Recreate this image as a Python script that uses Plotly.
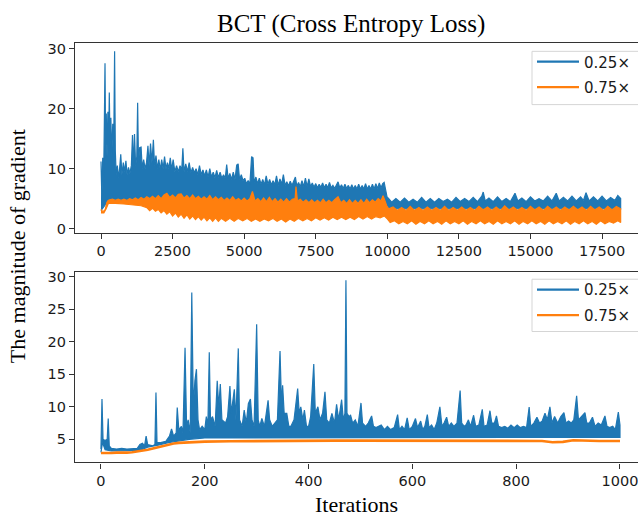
import plotly.graph_objects as go

# ---------------- data ----------------
series_names = ["0.25×", "0.75×"]
colors = ["#1f77b4", "#ff7f0e"]

# Top panel (all ~18k iterations): dense bands described by upper / lower envelopes
top_blue_upper_x = [0,30,60,90,120,140,160,185,210,240,265,290,315,345,375,410,445,475,500,530,570,610,650,690,730,780,830,870,910,960,1010,1060,1100,1130,1170,1210,1250,1280,1310,1350,1400,1440,1490,1540,1590,1640,1680,1730,1780,1830,1870,1920,1970,2020,2070,2120,2170,2220,2270,2320,2370,2420,2470,2520,2580,2640,2700,2760,2820,2860,2900,2960,3020,3080,3140,3200,3260,3320,3380,3440,3500,3560,3620,3680,3740,3800,3860,3920,3980,4040,4100,4160,4220,4280,4340,4390,4440,4500,4560,4620,4680,4740,4790,4840,4900,4960,5020,5080,5140,5200,5260,5310,5350,5410,5470,5530,5590,5650,5710,5770,5830,5890,5950,6010,6070,6130,6190,6250,6310,6370,6430,6490,6550,6610,6670,6730,6790,6840,6900,6960,7020,7080,7140,7200,7260,7320,7380,7440,7500,7560,7620,7680,7740,7800,7860,7920,7980,8040,8100,8160,8220,8280,8340,8400,8460,8520,8580,8640,8700,8760,8820,8880,8940,9000,9060,9120,9180,9240,9300,9360,9420,9480,9540,9600,9660,9720,9780,9840,9890,9940,9990,10050,10150,10300,10450,10600,10750,10900,11050,11200,11350,11500,11650,11800,11950,12100,12250,12400,12550,12700,12850,13000,13150,13300,13350,13420,13550,13700,13850,14000,14150,14300,14460,14560,14700,14850,15000,15150,15300,15450,15600,15750,15900,16000,16150,16300,16450,16600,16750,16850,16940,17050,17200,17350,17500,17650,17800,17950,18050,18150]
top_blue_upper_y = [11.2,5,11.8,7,19,27.6,14,19.2,12,19.5,13,22.7,14,18.5,12,17.5,14,29.6,13,9,10.5,8.5,10,12.4,9,11,9.5,11.3,9,10.2,9.2,10.5,15.6,10,15.8,10.5,12,21.0,11,13.5,13.6,10,11.5,10,11,13.8,10.5,14.2,11,14.8,10.5,12.2,10,11.5,9.8,11.5,10,12.0,10,11,10,11.8,9.8,11.5,9.5,10.5,9.5,10.5,9.8,13.4,9.5,10.8,9.5,11,9.3,10.2,9.3,10.0,9,10.5,9,9.8,8.8,9.8,8.6,10.0,8.6,9.4,8.5,9.7,8.5,9.4,8.4,9.0,8.4,10.7,8.4,9.2,8.2,9.4,8.2,10.6,10.8,8.2,9.0,8.0,8.4,7.5,8.0,7.4,12.0,11.8,7.6,8.6,7.5,8.4,7.4,8.2,7.3,8.8,7.4,8.2,7.3,8.0,7.3,8.8,7.2,8.3,7.4,9.0,7.2,7.8,7.1,7.9,7.2,8.0,8.6,7.1,7.7,7.0,8.0,7.0,8.4,7.0,8.3,7.0,7.6,6.9,7.5,6.8,7.4,6.9,7.6,6.8,7.4,6.8,7.7,6.8,7.2,6.7,7.4,7.8,6.8,7.3,6.7,7.4,6.7,7.2,6.6,7.3,6.6,7.2,6.6,7.4,6.6,7.2,6.6,7.5,6.6,7.2,6.6,7.4,6.6,7.5,6.7,7.6,6.8,7.5,7.7,6.2,5.3,5.0,4.4,5.0,4.4,5.1,4.4,4.9,4.4,5.2,4.4,5.0,4.4,5.0,4.5,4.9,4.4,5.2,4.5,5.0,4.5,5.2,4.5,5.4,6.1,4.6,5.1,4.5,5.3,4.5,5.0,4.5,5.9,4.6,5.1,4.5,5.3,4.6,5.0,4.6,5.4,4.6,5.9,4.6,5.2,4.6,5.4,4.6,5.3,4.7,6.0,4.6,5.3,4.6,5.4,4.6,5.2,4.7,5.5,5.0]
top_blue_lower_x = [0,60,150,300,1500,2500,4000,6000,9900,10050,18150]
top_blue_lower_y = [3.0,3.3,4.0,4.5,4.8,5.0,4.8,4.5,4.3,3.3,3.3]

top_orange_upper_x = [0,40,100,150,200,250,300,400,500,600,700,800,900,1000,1100,1200,1300,1400,1500,1600,1700,1800,1900,2000,2100,2200,2300,2400,2500,2600,2700,2800,2900,3000,3100,3200,3300,3400,3500,3600,3700,3800,3900,4000,4100,4200,4300,4400,4500,4600,4700,4800,4900,5000,5100,5200,5290,5380,5480,5580,5680,5780,5880,5980,6080,6180,6280,6380,6480,6580,6680,6780,6810,6860,6960,7060,7160,7260,7360,7460,7560,7660,7760,7860,7960,8060,8160,8280,8380,8480,8580,8680,8780,8880,8980,9080,9180,9280,9380,9480,9580,9680,9780,9850,9920,9980,10050,10200,10350,10500,10650,10800,10950,11100,11250,11400,11550,11700,11850,12000,12150,12300,12450,12600,12750,12900,13050,13200,13350,13500,13650,13800,13950,14100,14250,14400,14550,14700,14850,15000,15150,15300,15450,15600,15750,15900,16050,16200,16350,16500,16650,16800,16950,17100,17250,17400,17550,17700,17850,18000,18150]
top_orange_upper_y = [3.2,2.9,2.9,3.2,4.3,4.7,4.8,4.9,4.7,4.9,4.7,4.9,4.7,5.0,4.8,5.1,4.8,5.2,4.9,5.3,5.0,5.4,5.0,5.5,5.0,5.6,5.9,5.2,5.6,5.1,5.7,5.8,5.1,5.5,5.0,5.6,5.0,5.4,4.9,5.3,4.9,5.5,4.8,5.3,4.8,5.2,4.7,5.1,4.7,5.3,4.7,5.0,4.6,5.1,4.6,5.0,6.2,4.6,5.0,4.5,5.1,4.5,5.2,4.5,5.0,4.4,4.9,4.4,5.0,4.4,4.9,5.0,7.0,4.6,4.9,4.4,4.8,4.3,4.8,4.3,4.7,4.3,4.9,4.3,4.7,4.3,4.8,5.3,4.3,4.7,4.2,4.8,4.2,4.7,4.2,4.8,4.2,4.9,4.3,4.8,4.4,5.0,4.6,5.5,4.6,3.8,3.3,3.6,3.0,3.5,3.0,3.7,3.0,3.5,3.0,3.6,3.0,3.5,3.0,3.7,3.0,3.5,3.0,3.6,3.0,3.5,3.0,3.7,3.1,3.6,3.0,3.6,3.0,3.8,3.1,3.6,3.0,3.5,3.0,3.7,3.1,3.6,3.0,3.7,3.1,3.6,3.0,3.6,3.1,3.7,3.1,3.6,3.0,3.7,3.1,3.6,3.0,3.7,3.1,3.7,3.3]
top_orange_lower_x = [0,100,180,260,500,800,1100,1400,1600,1700,1800,1900,2000,2100,2200,2300,2400,2500,2600,2700,2800,2900,3000,3100,3200,3300,3400,3500,3600,3700,3800,3900,4000,4100,4200,4350,4500,4650,4800,4950,5100,5250,5400,5550,5700,5850,6000,6150,6300,6450,6600,6750,6900,7050,7200,7350,7500,7650,7800,7950,8100,8250,8400,8550,8700,8850,9000,9150,9300,9450,9600,9750,9900,10000,10100,10250,10400,10550,10700,10850,11000,11150,11300,11450,11600,11750,11900,12050,12200,12350,12500,12650,12800,12950,13100,13250,13400,13550,13700,13850,14000,14150,14300,14450,14600,14750,14900,15050,15200,15350,15500,15650,15800,15950,16100,16250,16400,16550,16700,16850,17000,17150,17300,17450,17600,17750,17900,18050,18150]
top_orange_lower_y = [2.6,2.6,3.3,4.2,4.2,4.1,4.0,3.8,3.5,3.0,3.4,2.9,3.2,2.6,3.0,2.4,2.8,2.1,2.6,1.9,2.4,1.7,2.3,1.6,2.1,1.5,2.0,1.4,1.9,1.3,1.8,1.2,1.8,1.2,1.7,1.2,1.7,1.2,1.7,1.3,1.7,1.2,1.6,1.2,1.6,1.3,1.7,1.2,1.6,1.1,1.6,1.2,1.7,1.3,1.7,1.3,1.8,1.4,1.8,1.4,1.9,1.5,1.9,1.5,1.9,1.5,2.0,1.6,2.0,1.6,2.0,1.8,2.1,1.6,1.0,1.3,0.8,1.2,0.8,1.3,0.7,1.2,0.8,1.3,0.8,1.2,0.7,1.3,0.8,1.2,0.8,1.3,0.7,1.2,0.8,1.3,0.8,1.2,0.7,1.3,0.8,1.2,0.8,1.3,0.7,1.2,0.8,1.3,0.8,1.2,0.7,1.3,0.8,1.2,0.8,1.3,0.7,1.2,0.8,1.3,0.8,1.2,0.7,1.3,0.8,1.2,0.9,1.3,1.0]

# Bottom panel (first 1000 iterations)
bot_blue_upper_x = [0,2,4,8,12,14,16,20,30,40,50,60,70,75,80,84,87,90,100,104,106,108,115,125,132,136,140,145,147,150,155,158,162,165,168,172,175,178,181,184,187,190,195,200,203,206,208.7,211,215,220,224,227,230,233,240,244,248.5,251,257,260,264.6,267,272,276,280,284,288,291,295,300,303,306,310,315,318,322,325,330,335,340,345,348,350,353,358,362,366,372,379,382,385,389,392,396,400,404,410,413,418,422,427,431.6,435,440,445,450,454,458,463.7,467,470,472,474,478,481,485,490,495,501,504,510,515,521.5,525,530,535,540,546,552,558,565,571.6,575,580,585,590,594,600,606,610,616,620,624,628.8,632,637,642,647,653,657,661,666,670,675,680,686,692,695,700,704,708,712,718,722,728,734.7,738,744,749.5,753,758,762,766,772,778,784,790,796,802,808,814,820,825,828,834,840,845,850,855.5,860,865,869,874,880,886,892,896,901,906,911,916.5,920,925,932.5,936,941,947,952,958,964,971,975,980,986,991,996.8,1000]
bot_blue_upper_y = [3.5,11.2,5.0,4.8,5.0,8.2,4.0,3.6,3.5,3.6,3.5,3.6,3.6,4.2,4.4,4.0,5.5,4.2,4.0,4.2,12.2,4.5,4.5,4.7,5.5,6.6,5.5,6.0,9.9,6.5,7.0,6.0,19.1,7.0,8.0,6.0,27.6,10.0,14.0,15.8,8.0,6.5,7.0,6.5,8.5,7.0,18.4,8.0,8.5,7.0,14.0,10.0,13.5,8.0,7.5,8.5,13.2,9.0,12.7,8.0,19.0,8.0,7.0,9.5,7.5,10.5,11.2,8.0,7.0,22.7,8.0,7.0,8.2,7.0,8.5,11.0,8.0,7.0,7.5,8.0,18.6,10.0,13.3,9.0,9.0,7.0,7.0,8.0,12.8,9.0,10.0,8.0,9.5,7.0,7.0,8.5,16.6,9.0,10.0,8.0,9.0,12.3,8.0,7.5,9.0,7.5,10.4,8.0,11.1,8.0,9.0,29.5,9.0,8.5,8.7,7.5,8.0,7.0,10.6,7.5,7.0,7.5,8.6,7.0,6.8,7.0,7.2,6.5,7.0,6.5,6.8,8.8,6.5,7.0,6.5,8.3,6.5,7.0,8.2,6.8,7.8,6.5,7.0,8.8,6.8,7.2,6.5,7.5,10.0,7.0,7.5,8.4,7.0,7.5,7.0,7.5,12.5,7.5,7.0,7.3,8.0,7.0,8.7,7.0,7.2,9.6,7.0,7.2,9.4,7.5,7.5,8.6,7.0,6.8,7.0,6.7,7.2,6.8,7.2,6.8,7.0,6.8,9.96,7.0,7.5,8.4,7.5,7.8,9.0,8.0,10.0,7.5,8.5,7.5,8.5,9.1,7.5,7.8,7.5,8.0,11.7,8.0,8.5,9.1,7.5,7.5,8.4,7.0,7.5,7.2,8.6,7.0,6.8,7.0,6.5,9.2,7.2]
bot_blue_lower_x = [0,3,8,20,75,90,110,130,150,170,200,300,400,500,600,700,800,900,1000]
bot_blue_lower_y = [3.0,4.5,3.4,3.2,3.3,3.8,4.1,4.5,4.8,5.0,5.2,5.3,5.3,5.3,5.3,5.3,5.3,5.3,5.3]

bot_orange_x = [0,10,20,30,40,50,60,70,80,90,100,110,120,130,140,150,160,170,180,200,250,300,350,400,450,500,550,600,650,700,750,800,850,870,890,910,930,960,1000]
bot_orange_y = [2.9,2.85,2.9,2.95,2.9,2.95,3.0,3.1,3.2,3.4,3.6,3.8,4.0,4.2,4.35,4.45,4.5,4.55,4.6,4.65,4.7,4.75,4.8,4.75,4.8,4.8,4.8,4.8,4.8,4.8,4.75,4.8,4.75,4.55,4.6,4.85,4.8,4.75,4.75]

top_xticks = [0, 2500, 5000, 7500, 10000, 12500, 15000, 17500]
top_xticklabels = ["0", "2500", "5000", "7500", "10000", "12500", "15000", "17500"]
top_yticks = [0, 10, 20, 30]
bot_xticks = [0, 200, 400, 600, 800, 1000]
bot_xticklabels = ["0", "200", "400", "600", "800", "1000"]
bot_yticks = [5, 10, 15, 20, 25, 30]

title_text = "BCT (Cross Entropy Loss)"
ylabel_text = "The magnitude of gradient"
xlabel_text = "Iterations"

# ---------------- figure ----------------
W, H = 638, 519
fig = go.Figure()

def band(xa, ya, xb, yb, color, xaxis, yaxis):
    px = list(xa) + list(xb)[::-1]
    py = list(ya) + list(yb)[::-1]
    fig.add_trace(go.Scatter(x=px, y=py, mode="lines", fill="toself",
                             fillcolor=color, line=dict(color=color, width=1.2),
                             showlegend=False, hoverinfo="skip",
                             xaxis=xaxis, yaxis=yaxis))

# top panel
band(top_blue_upper_x, top_blue_upper_y, top_blue_lower_x, top_blue_lower_y, colors[0], "x", "y")
band(top_orange_upper_x, top_orange_upper_y, top_orange_lower_x, top_orange_lower_y, colors[1], "x", "y")
for i, (name, c) in enumerate(zip(series_names, colors)):
    fig.add_trace(go.Scatter(x=[None], y=[None], mode="lines", name=name,
                             line=dict(color=c, width=2.2), xaxis="x", yaxis="y",
                             legend="legend", legendgroup="top%d" % i))

# bottom panel
band(bot_blue_upper_x, bot_blue_upper_y, bot_blue_lower_x, bot_blue_lower_y, colors[0], "x2", "y2")
fig.add_trace(go.Scatter(x=bot_orange_x, y=bot_orange_y, mode="lines",
                         line=dict(color=colors[1], width=2.6), showlegend=False,
                         xaxis="x2", yaxis="y2"))
for i, (name, c) in enumerate(zip(series_names, colors)):
    fig.add_trace(go.Scatter(x=[None], y=[None], mode="lines", name=name,
                             line=dict(color=c, width=2.2), xaxis="x2", yaxis="y2",
                             legend="legend2", legendgroup="bot%d" % i))

tickfont = dict(family="DejaVu Sans", size=14.5, color="#1a1a1a")
axis_common = dict(showgrid=False, zeroline=False, showline=True, linecolor="#333",
                   linewidth=1.2, ticks="outside", ticklen=5, tickwidth=1.1,
                   tickcolor="#333", tickfont=tickfont, ticklabeloverflow="allow")

legend_common = dict(xanchor="left", yanchor="top", bgcolor="rgba(0,0,0,0)",
                     borderwidth=0, itemwidth=42, tracegroupgap=3,
                     font=dict(family="DejaVu Sans", size=15, color="#1a1a1a"))

x0 = 75 / W
fig.update_layout(
    width=W, height=H,
    margin=dict(l=0, r=0, t=0, b=0),
    paper_bgcolor="white", plot_bgcolor="white",
    xaxis=dict(domain=[x0, 1], anchor="y", range=[-908, 18756], tickvals=top_xticks,
               ticktext=top_xticklabels, mirror=True, **axis_common),
    yaxis=dict(domain=[1 - 233 / H, 1 - 41 / H], anchor="x", range=[-0.72, 30.9],
               tickvals=top_yticks, **axis_common),
    xaxis2=dict(domain=[x0, 1], anchor="y2", range=[-50, 1034.7], tickvals=bot_xticks,
                ticktext=bot_xticklabels, mirror=True, **axis_common),
    yaxis2=dict(domain=[1 - 465.7 / H, 1 - 272.3 / H], anchor="x2", range=[1.44, 30.82],
                tickvals=bot_yticks, **axis_common),
    legend=dict(x=532 / W, y=1 - 43 / H, **legend_common),
    legend2=dict(x=532 / W, y=1 - 274 / H, **legend_common),
    shapes=[
        dict(type="rect", xref="paper", yref="paper", x0=532 / W, x1=646 / W,
             y0=1 - 103 / H, y1=1 - 49 / H, line=dict(color="#d5d5d5", width=1),
             fillcolor="rgba(0,0,0,0)", layer="below"),
        dict(type="rect", xref="paper", yref="paper", x0=532 / W, x1=646 / W,
             y0=1 - 333 / H, y1=1 - 280 / H, line=dict(color="#d5d5d5", width=1),
             fillcolor="rgba(0,0,0,0)", layer="below"),
    ],
    annotations=[
        dict(text=title_text, xref="paper", yref="paper", x=351 / W, y=1 - 21 / H,
             xanchor="center", yanchor="middle", showarrow=False,
             font=dict(family="Liberation Serif", size=25, color="black")),
        dict(text=ylabel_text, xref="paper", yref="paper", x=17 / W, y=1 - 246.5 / H,
             xanchor="center", yanchor="middle", textangle=-90, showarrow=False,
             font=dict(family="Liberation Serif", size=22, color="black")),
        dict(text=xlabel_text, xref="paper", yref="paper", x=356 / W, y=1 - 508 / H,
             xanchor="center", yanchor="middle", showarrow=False,
             font=dict(family="Liberation Serif", size=22, color="black")),
    ],
)

fig.write_html("out.html")
